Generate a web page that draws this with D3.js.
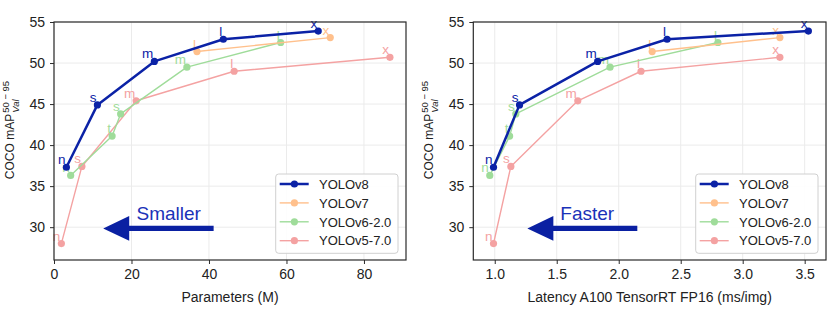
<!DOCTYPE html>
<html>
<head>
<meta charset="utf-8">
<script src="https://cdn.jsdelivr.net/npm/d3@7"></script>
<style>
  body { margin: 0; background: #fff; }
  svg { display: block; font-family: "Liberation Sans", Arial, sans-serif; }
</style>
</head>
<body>
<svg id="chart" width="836" height="317"></svg>
<script>
// series data
const v8Labels = ['n', 's', 'm', 'l', 'x'];
const v8Params = [3.2, 11.2, 25.9, 43.7, 68.2];
const v8Latency = [0.99, 1.20, 1.83, 2.39, 3.53];
const v8Map = [37.3, 44.9, 50.2, 52.9, 53.9];

const v7Labels = ['l', 'x'];
const v7Params = [36.9, 71.3];
const v7Latency = [2.27, 3.30];
const v7Map = [51.4, 53.1];

const v6Labels = ['n', 't', 's', 'm', 'l'];
const v6Params = [4.3, 15.0, 17.2, 34.3, 58.5];
const v6Latency = [0.96, 1.12, 1.17, 1.93, 2.80];
const v6Map = [36.3, 41.1, 43.8, 49.5, 52.5];

const v5Labels = ['n', 's', 'm', 'l', 'x'];
const v5Params = [1.9, 7.2, 21.2, 46.5, 86.7];
const v5Latency = [0.99, 1.13, 1.67, 2.18, 3.30];
const v5Map = [28.0, 37.4, 45.4, 49.0, 50.7];

const seriesNames = ['YOLOv8', 'YOLOv7', 'YOLOv6-2.0', 'YOLOv5-7.0'];
const yTicks = [30, 35, 40, 45, 50, 55];
const paramTicks = [0, 20, 40, 60, 80];
const latencyTicks = [1.0, 1.5, 2.0, 2.5, 3.0, 3.5];

const series = [
  {name: seriesNames[0], labels: v8Labels, params: v8Params, lat: v8Latency, map: v8Map,
    color: '#0b22a6', width: 2.5, r: 3.6, fs: 13.5},
  {name: seriesNames[1], labels: v7Labels, params: v7Params, lat: v7Latency, map: v7Map,
    color: '#ffc08c', width: 1.4, r: 3.6, fs: 13.5},
  {name: seriesNames[2], labels: v6Labels, params: v6Params, lat: v6Latency, map: v6Map,
    color: '#9fdc9a', width: 1.4, r: 3.6, fs: 13.5},
  {name: seriesNames[3], labels: v5Labels, params: v5Params, lat: v5Latency, map: v5Map,
    color: '#f4a2a2', width: 1.4, r: 3.6, fs: 13.5},
];

const panels = [
  {key: 'params', left: 54, right: 406, domain: [0, 90.85], ticks: paramTicks,
    fmt: d3.format('d'), title: 'Parameters (M)',
    arrow: {from: 41.2, to: 12.7, y: 29.85, text: 'Smaller', tx: 21.3, ty: 30.9}},
  {key: 'lat', left: 473.3, right: 826, domain: [0.827, 3.672], ticks: latencyTicks,
    fmt: d3.format('.1f'), title: 'Latency A100 TensorRT FP16 (ms/img)',
    arrow: {from: 2.15, to: 1.263, y: 29.85, text: 'Faster', tx: 1.529, ty: 30.9}},
];

const plotTop = 22, plotBottom = 260;
const svg = d3.select('#chart');
const y = d3.scaleLinear().domain([26, 55]).range([plotBottom, plotTop]);

function drawPanel(p) {
  const x = d3.scaleLinear().domain(p.domain).range([p.left, p.right]);
  const g = svg.append('g');

  // grid
  g.selectAll('line.gx').data(p.ticks).enter().append('line')
    .attr('x1', d => x(d)).attr('x2', d => x(d))
    .attr('y1', plotTop).attr('y2', plotBottom)
    .attr('stroke', '#ebebeb').attr('stroke-width', 1);
  g.selectAll('line.gy').data(yTicks).enter().append('line')
    .attr('x1', p.left).attr('x2', p.right)
    .attr('y1', d => y(d)).attr('y2', d => y(d))
    .attr('stroke', '#ebebeb').attr('stroke-width', 1);

  // series, v8 last so it sits on top
  series.slice().reverse().forEach(function(s) {
    const pts = s.map.map((m, i) => [s[p.key][i], m, s.labels[i]]);
    const line = d3.line().x(d => x(d[0])).y(d => y(d[1]));
    g.append('path').datum(pts)
      .attr('d', line)
      .attr('fill', 'none')
      .attr('stroke', s.color)
      .attr('stroke-width', s.width)
      .attr('stroke-linejoin', 'round');
    g.selectAll(null).data(pts).enter().append('circle')
      .attr('cx', d => x(d[0])).attr('cy', d => y(d[1]))
      .attr('r', s.r).attr('fill', s.color);
    g.selectAll(null).data(pts).enter().append('text')
      .attr('x', d => x(d[0]) - 1).attr('y', d => y(d[1]) - 3)
      .attr('text-anchor', 'end')
      .attr('font-size', s.fs)
      .attr('fill', s.color)
      .text(d => d[2]);
  });

  // arrow annotation
  const a = p.arrow;
  const tip = x(a.to), tail = x(a.from), ay = y(a.y);
  const headLen = 26, headHalf = 12.3, shaftHalf = 2.7;
  g.append('polygon')
    .attr('points', [
      [tip, ay], [tip + headLen, ay - headHalf], [tip + headLen, ay - shaftHalf],
      [tail, ay - shaftHalf], [tail, ay + shaftHalf], [tip + headLen, ay + shaftHalf],
      [tip + headLen, ay + headHalf]].map(q => q.join(',')).join(' '))
    .attr('fill', '#0a20a2');
  g.append('text')
    .attr('x', x(a.tx)).attr('y', y(a.ty))
    .attr('font-size', 19)
    .attr('fill', '#1a32b8')
    .text(a.text);

  // frame
  g.append('rect')
    .attr('x', p.left).attr('y', plotTop)
    .attr('width', p.right - p.left).attr('height', plotBottom - plotTop)
    .attr('fill', 'none').attr('stroke', '#2a2a2a').attr('stroke-width', 1.2);

  // axes
  const xAxis = d3.axisBottom(x).tickValues(p.ticks).tickFormat(p.fmt)
    .tickSize(4).tickPadding(5);
  const gx = g.append('g').attr('transform', 'translate(0,' + plotBottom + ')').call(xAxis);
  const yAxis = d3.axisLeft(y).tickValues(yTicks).tickSize(4).tickPadding(5);
  const gy = g.append('g').attr('transform', 'translate(' + p.left + ',0)').call(yAxis);
  [gx, gy].forEach(function(ax) {
    ax.select('.domain').remove();
    ax.selectAll('line').attr('stroke', '#2a2a2a').attr('stroke-width', 1);
    ax.selectAll('text').attr('font-size', 14).attr('fill', '#222')
      .attr('font-family', '"Liberation Sans", Arial, sans-serif');
  });

  g.append('text')
    .attr('x', (p.left + p.right) / 2).attr('y', 302)
    .attr('text-anchor', 'middle').attr('font-size', 14).attr('fill', '#222')
    .text(p.title);

  // y label with stacked super/subscript
  const yl = g.append('g')
    .attr('transform', 'translate(' + (p.left - 40.5) + ',130) rotate(-90)');
  const main = yl.append('text').attr('font-size', 12).attr('fill', '#222')
    .text('COCO mAP');
  const sup = yl.append('text').attr('font-size', 9.5).attr('fill', '#222')
    .text('50 \u2212 95');
  const sub = yl.append('text').attr('font-size', 9.5).attr('fill', '#222')
    .attr('font-style', 'italic').text('Val');
  const mw = main.node().getComputedTextLength();
  const sw = Math.max(sup.node().getComputedTextLength(),
    sub.node().getComputedTextLength());
  const x0 = -(mw + 1 + sw) / 2;
  main.attr('x', x0).attr('y', 0);
  sup.attr('x', x0 + mw + 1).attr('y', -4.5);
  sub.attr('x', x0 + mw + 1).attr('y', 5);

  // legend
  const lw = 122.3, lh = 79.3;
  const lx = p.right - 8 - lw, ly = 174;
  const lg = g.append('g');
  lg.append('rect')
    .attr('x', lx).attr('y', ly).attr('width', lw).attr('height', lh)
    .attr('rx', 3).attr('fill', '#fff').attr('fill-opacity', 0.9)
    .attr('stroke', '#d0d0d0').attr('stroke-width', 1);
  series.forEach(function(s, i) {
    const ry = ly + 10 + i * 18.9;
    lg.append('line')
      .attr('x1', lx + 4).attr('x2', lx + 33).attr('y1', ry).attr('y2', ry)
      .attr('stroke', s.color).attr('stroke-width', s.width);
    lg.append('circle').attr('cx', lx + 18.7).attr('cy', ry).attr('r', s.r)
      .attr('fill', s.color);
    lg.append('text')
      .attr('x', lx + 43.3).attr('y', ry + 4.7)
      .attr('font-size', 13).attr('fill', '#222')
      .text(s.name);
  });
}

panels.forEach(drawPanel);
</script>
</body>
</html>
